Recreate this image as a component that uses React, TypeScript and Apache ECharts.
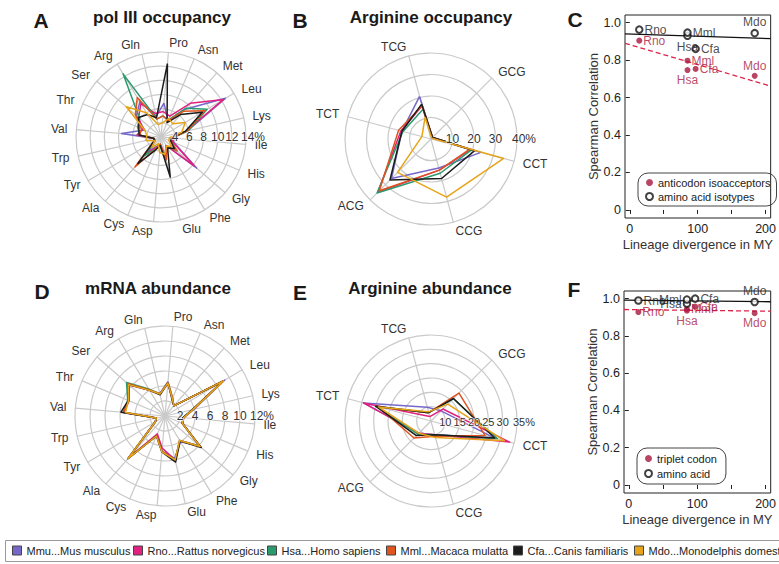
import React, { useEffect, useRef } from 'react';
import * as echarts from 'echarts';

const FONT = '"Liberation Sans", Arial, Helvetica, sans-serif';
const NARROW = '"Liberation Sans Narrow", "Liberation Sans", Arial, sans-serif';

const speciesNames = [
  'Mmu...Mus musculus',
  'Rno...Rattus norvegicus',
  'Hsa...Homo sapiens',
  'Mml...Macaca mulatta',
  'Cfa...Canis familiaris',
  'Mdo...Monodelphis domestica',
];
const speciesColors = ['#7668c8', '#e2207f', '#2b9a6c', '#e05420', '#1c1c1c', '#e6a41a'];

// clockwise from the top
const aminoAcids = ['Pro', 'Asn', 'Met', 'Leu', 'Lys', 'Ile', 'His', 'Gly', 'Phe', 'Glu', 'Asp', 'Cys', 'Ala', 'Tyr', 'Trp', 'Val', 'Thr', 'Ser', 'Arg', 'Gln'];
const argCodons = ['TCG', 'GCG', 'CCT', 'CCG', 'ACG', 'TCT'];

// A: pol III occupancy (%)
const polOccMmu = [6.8, 4.5, 7.2, 12.6, 5.8, 3.6, 4.0, 8.7, 3.4, 5.0, 3.0, 3.4, 4.6, 3.0, 3.0, 7.6, 4.5, 6.6, 7.8, 5.0];
const polOccRno = [5.6, 5.2, 8.3, 12.3, 5.6, 3.6, 3.8, 8.2, 3.4, 5.2, 3.2, 3.6, 5.0, 3.0, 3.0, 5.4, 4.8, 6.2, 7.5, 5.4];
const polOccHsa = [5.0, 4.6, 7.4, 9.6, 6.0, 3.6, 3.5, 5.0, 3.5, 5.3, 3.2, 3.8, 5.5, 3.0, 3.0, 5.0, 5.6, 6.0, 12.4, 4.6];
const polOccMml = [5.0, 4.5, 6.8, 9.2, 5.8, 3.6, 3.5, 5.0, 3.5, 5.3, 3.0, 3.8, 7.6, 3.2, 3.0, 5.0, 5.0, 6.8, 8.5, 4.6];
const polOccCfa = [12.4, 4.2, 6.2, 8.8, 5.5, 3.5, 3.5, 4.5, 3.8, 7.8, 3.2, 4.0, 7.0, 3.2, 3.0, 5.1, 5.4, 6.2, 5.7, 4.8];
const polOccMdo = [4.0, 4.8, 4.5, 6.0, 5.0, 3.2, 3.2, 4.0, 3.5, 4.5, 4.2, 3.0, 4.0, 3.0, 4.2, 4.0, 4.5, 8.5, 6.0, 3.8];

// B: Arginine occupancy (%)
const argOccMmu = [20.5, 1, 24, 14, 26, 14];
const argOccRno = [16, 1, 19, 15, 35, 14.5];
const argOccHsa = [14.3, 1, 19.5, 16.5, 35.5, 13.5];
const argOccMml = [16, 1, 18.5, 15, 34, 15.6];
const argOccCfa = [16.8, 1, 21, 19, 27, 14];
const argOccMdo = [10.5, 0.5, 35, 28, 22, 4.4];

// D: mRNA abundance (%)
const mrnaMmu = [4.6, 2.5, 1.8, 9.3, 4.0, 2.5, 2.6, 6.0, 4.0, 5.8, 4.7, 2.8, 7.6, 1.5, 1.2, 5.4, 5.3, 6.4, 4.1, 3.1];
const mrnaRno = [4.4, 2.5, 1.8, 9.1, 3.8, 2.5, 2.5, 6.2, 3.8, 6.0, 4.3, 2.6, 7.4, 1.5, 1.2, 5.5, 5.2, 6.3, 4.0, 3.0];
const mrnaHsa = [4.5, 2.6, 1.8, 9.0, 3.8, 2.5, 2.5, 6.1, 3.8, 6.0, 4.8, 2.9, 7.5, 1.5, 1.2, 5.6, 5.4, 6.8, 4.2, 3.0];
const mrnaMml = [4.5, 2.6, 1.8, 9.0, 3.8, 2.5, 2.5, 6.2, 3.8, 6.1, 4.7, 2.9, 7.5, 1.5, 1.2, 5.6, 5.2, 6.6, 4.1, 3.0];
const mrnaCfa = [4.4, 2.4, 1.8, 9.0, 3.7, 2.4, 2.5, 6.4, 3.9, 6.3, 4.8, 2.9, 7.4, 1.5, 1.2, 5.9, 5.3, 6.4, 4.0, 2.9];
const mrnaMdo = [4.4, 2.5, 1.8, 9.1, 3.8, 2.5, 2.5, 6.2, 3.8, 6.0, 4.8, 2.9, 7.5, 1.5, 1.2, 5.3, 5.3, 6.4, 4.0, 3.0];

// E: Arginine abundance (%)
const argAbMmu = [10, 10, 28, 10, 11, 29.4];
const argAbRno = [6.6, 10.9, 33.4, 10, 11, 29.4];
const argAbHsa = [8, 16, 29, 10, 11.5, 25];
const argAbMml = [8, 18.8, 24.5, 10.5, 13.4, 24];
const argAbCfa = [8, 16.1, 28, 10, 12.2, 25];
const argAbMdo = [8.3, 13.3, 31.5, 11, 11, 24];

// C / F scatter
const compSpecies = ['Rno', 'Hsa', 'Mml', 'Cfa', 'Mdo'];
const divergenceMY = [14, 85, 85, 97, 184];
const isoacceptorCorr = [0.904, 0.747, 0.797, 0.753, 0.716];
const isotypeCorr = [0.963, 0.930, 0.947, 0.860, 0.944];
const tripletCorr = [0.928, 0.935, 0.945, 0.957, 0.922];
const aminoAcidCorr = [0.990, 0.973, 0.995, 1.000, 0.982];

const corrTicks = [0, 0.2, 0.4, 0.6, 0.8, 1.0];
const myTicks = [0, 50, 100, 150, 200];
const myLabels = [0, 100, 200];

const CRIMSON = '#a8173f';
const FITRED = '#dd2248';
const GRID_C = '#c9c9c9';

// label placement (style only)
const labelPosC_open = ['right', 'bottom', 'right', 'right', 'top'];
const labelOffC_open = [[-2, 0], [-4, -2], [0, -3], [-2, 0], [0, 2]];
const labelPosC_fill = ['right', 'bottom', 'right', 'right', 'top'];
const labelOffC_fill = [[0, 2], [-4, -5], [0, -3], [0, 5], [0, 1]];
const labelPosF_open = ['right', 'left', 'left', 'right', 'top'];
const labelOffF_open = [[-4, -5], [0, 3], [5, -4], [0, -2], [-3, 4]];
const labelPosF_fill = ['right', 'bottom', 'right', 'right', 'bottom'];
const labelOffF_fill = [[0, 4], [6, 1], [0, 6], [0, 1], [0, 1]];
const legendLefts = [12, 133, 267, 386, 513, 634];

const ccw = (arr: any[]) => [arr[0], ...arr.slice(1).reverse()];

function fit(xs: number[], ys: number[]) {
  const n = xs.length;
  const mx = xs.reduce((a, b) => a + b, 0) / n;
  const my = ys.reduce((a, b) => a + b, 0) / n;
  let sxy = 0, sxx = 0;
  for (let i = 0; i < n; i++) { sxy += (xs[i] - mx) * (ys[i] - my); sxx += (xs[i] - mx) ** 2; }
  const b = sxy / sxx;
  return { a: my - b * mx, b };
}

export default function App() {
  const ref = useRef<HTMLDivElement>(null);
  useEffect(() => {
    if (!ref.current) return;
    const chart = echarts.init(ref.current, undefined, { renderer: 'svg' });

    const radar = (center: number[], radius: number, startAngle: number, names: string[], min: number, max: number, split: number) => ({
      center, radius, startAngle, shape: 'circle', splitNumber: split,
      indicator: ccw(names).map((n) => ({ name: n, min, max })),
      axisName: { color: '#333', fontSize: 12, fontFamily: FONT },
      nameGap: 9,
      splitLine: { lineStyle: { color: GRID_C, width: 1.2 } },
      splitArea: { show: false },
      axisLine: { lineStyle: { color: GRID_C, width: 1.2 } },
      axisTick: { show: false },
      axisLabel: { show: false },
      z: 1,
    });

    const radarSeries = (idx: number, sets: number[][]) => ({
      type: 'radar', radarIndex: idx, symbol: 'none', silent: true, z: 2,
      data: sets.map((v, i) => ({
        name: speciesNames[i], value: ccw(v),
        lineStyle: { color: speciesColors[i], width: 1.5 },
        itemStyle: { color: speciesColors[i] },
      })),
    });

    const rAxis = (idx: number, min: number, max: number, interval: number, fs: number, boxW: number) => ({
      polarIndex: idx, type: 'value', min, max, interval,
      axisLine: { show: false }, axisTick: { show: false }, splitLine: { show: false },
      axisLabel: {
        showMinLabel: true, showMaxLabel: true,
        formatter: (v: number) => (v === min ? '' : v === max ? `{m|${v}%}` : String(v)),
        rich: { m: { width: boxW, align: 'left', fontSize: fs, color: '#333', fontFamily: FONT, textBorderColor: 'rgba(255,255,255,0.85)', textBorderWidth: 1.5 } },
        fontSize: fs, color: '#333', fontFamily: FONT, margin: -6,
        textBorderColor: 'rgba(255,255,255,0.85)', textBorderWidth: 1.5,
      },
      zlevel: 1, z: 50,
    });
    const aAxis = (idx: number) => ({ polarIndex: idx, type: 'value', min: 0, max: 360, startAngle: 0, show: false });

    const fitC1 = fit(divergenceMY, isoacceptorCorr);
    const fitC2 = fit(divergenceMY, isotypeCorr);
    const fitF1 = fit(divergenceMY, tripletCorr);
    const fitF2 = fit(divergenceMY, aminoAcidCorr);
    const XMIN = -7, XMAX = 207.5, YMIN = -0.043, YMAX = 1.041;
    const fitLine = (f: { a: number; b: number }) => [[XMIN, f.a + f.b * XMIN], [XMAX, f.a + f.b * XMAX]];

    const xAx = (gi: number) => ({
      gridIndex: gi, type: 'value', min: XMIN, max: XMAX,
      axisLine: { show: false }, splitLine: { show: false },
      axisTick: { show: true, length: 4, customValues: myTicks, lineStyle: { color: '#222' } },
      axisLabel: { customValues: myLabels, fontSize: 12.5, color: '#222', fontFamily: FONT, margin: 4 },
      name: 'Lineage divergence in MY', nameLocation: 'middle', nameGap: 20,
      nameTextStyle: { fontSize: 13, color: '#333', fontFamily: FONT },
    });
    const yAx = (gi: number) => ({
      gridIndex: gi, type: 'value', min: YMIN, max: YMAX,
      axisLine: { show: false }, splitLine: { show: false },
      axisTick: { show: true, length: 4, customValues: corrTicks, lineStyle: { color: '#222' } },
      axisLabel: { customValues: corrTicks, fontSize: 12.5, color: '#222', fontFamily: FONT, margin: 4,
        formatter: (v: number) => (Math.abs(v) < 1e-9 ? '0' : v.toFixed(1)) },
      name: 'Spearman Correlation', nameLocation: 'middle', nameGap: 23, nameRotate: 90,
      nameTextStyle: { fontSize: 13, color: '#333', fontFamily: FONT },
    });

    const scatter = (name: string, gi: number, ys: number[], filled: boolean, pos: string[], off: number[][]) => ({
      type: 'scatter', name, xAxisIndex: gi, yAxisIndex: gi, silent: true,
      symbol: filled ? 'circle' : 'emptyCircle', symbolSize: filled ? 6 : 6.5,
      itemStyle: filled ? { color: CRIMSON } : { color: '#111', borderWidth: 1.2 },
      data: divergenceMY.map((x, i) => ({
        name: compSpecies[i], value: [x, ys[i]],
        label: { position: pos[i], offset: off[i] },
      })),
      label: { show: true, formatter: '{b}', fontSize: 12, fontFamily: FONT, color: filled ? CRIMSON : '#1a1a1a', distance: 1 },
      labelLayout: { hideOverlap: false },
      z: 5,
    });
    const line = (gi: number, f: any, dashed: boolean) => ({
      type: 'line', name: dashed ? 'fitRed' + gi : 'fitBlack' + gi, xAxisIndex: gi, yAxisIndex: gi,
      data: fitLine(f), symbol: 'none', silent: true,
      lineStyle: { color: dashed ? FITRED : '#111', width: 1.3, type: dashed ? [5, 3] : 'solid' },
      z: 3,
    });

    const title = (text: string, x: number, y: number, size: number) => ({
      type: 'text', x, y, silent: true,
      style: { text, fill: '#1a1a1a', font: `bold ${size}px ${FONT}`, textAlign: 'center', textVerticalAlign: 'middle' },
    });

    const speciesLegends = speciesNames.map((n, i) => ({
      data: [n], left: legendLefts[i], top: 545, icon: 'rect', itemWidth: 9, itemHeight: 9,
      padding: 0, selectedMode: false,
      itemStyle: { borderColor: '#444', borderWidth: 1 },
      textStyle: { fontFamily: NARROW, fontSize: 11, color: '#222' },
    }));

    chart.setOption({
      animation: false,
      radar: [
        radar([161, 137], 85, 85, aminoAcids, 2, 14, 6),
        radar([431, 139], 86, 105, argCodons, 0, 40, 4),
        radar([165, 416], 90, 85, aminoAcids, 0, 12, 6),
        radar([431, 421], 86, 105, argCodons, 5, 35, 6),
      ],
      polar: [
        { center: [161, 137], radius: 85 },
        { center: [431, 139], radius: 86 },
        { center: [165, 416], radius: 90 },
        { center: [431, 421], radius: 86 },
      ],
      angleAxis: [aAxis(0), aAxis(1), aAxis(2), aAxis(3)],
      radiusAxis: [rAxis(0, 2, 14, 2, 12, 10), rAxis(1, 0, 40, 10, 12, 10), rAxis(2, 0, 12, 2, 12, 10), rAxis(3, 5, 35, 5, 11, 8)],
      grid: [
        { left: 625, top: 15, width: 152, height: 203, show: true, borderColor: '#222', borderWidth: 1 },
        { left: 624, top: 291, width: 153, height: 202, show: true, borderColor: '#222', borderWidth: 1 },
      ],
      xAxis: [xAx(0), xAx(1)],
      yAxis: [yAx(0), yAx(1)],
      legend: [
        ...speciesLegends,
        {
          data: [{ name: 'anticodon isoacceptors', icon: 'circle' }, { name: 'amino acid isotypes', icon: 'emptyCircle' }],
          orient: 'vertical', left: 638, top: 173, itemWidth: 7, itemHeight: 7, itemGap: 3,
          padding: [4, 6, 4, 7], borderColor: '#444', borderWidth: 1, borderRadius: 10, selectedMode: false,
          textStyle: { fontFamily: FONT, fontSize: 11, color: '#222' },
        },
        {
          data: [{ name: 'triplet codon', icon: 'circle' }, { name: 'amino acid', icon: 'emptyCircle' }],
          orient: 'vertical', left: 637, top: 448, itemWidth: 7, itemHeight: 7, itemGap: 4,
          padding: [5, 9, 5, 7], borderColor: '#444', borderWidth: 1, borderRadius: 10, selectedMode: false,
          textStyle: { fontFamily: FONT, fontSize: 11, color: '#222' },
        },
      ],
      series: [
        radarSeries(0, [polOccMmu, polOccRno, polOccHsa, polOccMml, polOccCfa, polOccMdo]),
        radarSeries(1, [argOccMmu, argOccRno, argOccHsa, argOccMml, argOccCfa, argOccMdo]),
        radarSeries(2, [mrnaMmu, mrnaRno, mrnaHsa, mrnaMml, mrnaCfa, mrnaMdo]),
        radarSeries(3, [argAbMmu, argAbRno, argAbHsa, argAbMml, argAbCfa, argAbMdo]),
        line(0, fitC2, false),
        line(0, fitC1, true),
        scatter('anticodon isoacceptors', 0, isoacceptorCorr, true, labelPosC_fill, labelOffC_fill),
        scatter('amino acid isotypes', 0, isotypeCorr, false, labelPosC_open, labelOffC_open),
        line(1, fitF2, false),
        line(1, fitF1, true),
        scatter('triplet codon', 1, tripletCorr, true, labelPosF_fill, labelOffF_fill),
        scatter('amino acid', 1, aminoAcidCorr, false, labelPosF_open, labelOffF_open),
      ],
      graphic: [
        { type: 'rect', silent: true, shape: { x: 5.5, y: 540.5, width: 800, height: 21 }, style: { fill: 'none', stroke: '#999', lineWidth: 1 } },
        title('A', 41, 20, 21), title('pol III occupancy', 162, 17, 17),
        title('B', 300, 20, 21), title('Arginine occupancy', 431, 17, 17),
        title('C', 575, 19, 21),
        title('D', 42, 291, 21), title('mRNA abundance', 158, 288, 17),
        title('E', 300, 292, 21), title('Arginine abundance', 430, 288, 17),
        title('F', 574, 289, 21),
      ],
    });
    return () => chart.dispose();
  }, []);
  return <div ref={ref} style={{ position: 'fixed', left: 0, top: 0, width: '779px', height: '564px', background: '#fff' }} />;
}
